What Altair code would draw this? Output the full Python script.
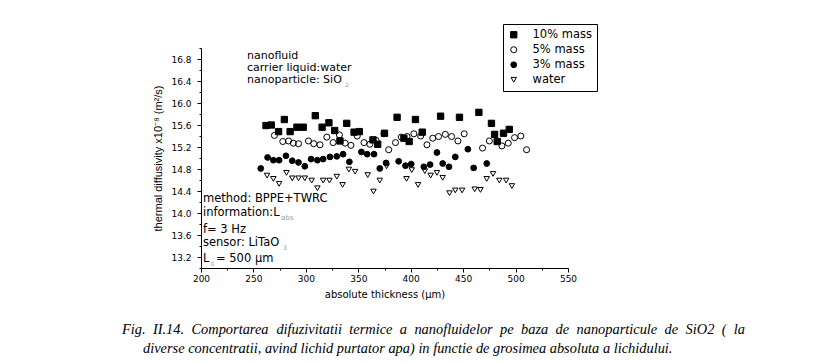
import altair as alt
import pandas as pd

# ---------------- data ----------------
series_names = ["10% mass", "5% mass", "3% mass", "water"]

x_10 = [262, 267, 274, 279.5, 285, 291.5, 297.5, 309, 315.5, 322, 327.5, 332.5, 339, 346, 351,
        364, 368.5, 375, 387, 393.5, 398.5, 404.5, 411, 428.5, 446.5, 465, 477, 480, 482.5,
        488.5, 494]
y_10 = [15.59, 15.60, 15.48, 15.70, 15.48, 15.56, 15.56, 15.77, 15.56, 15.64, 15.50, 15.31,
        15.63, 15.47, 15.48, 15.33, 15.25, 15.45, 15.74, 15.36, 15.30, 15.70, 15.47, 15.76,
        15.74, 15.83, 15.63, 15.43, 15.30, 15.45, 15.52]

x_5 = [270, 278, 283.5, 288, 293, 302.5, 307.5, 313.5, 320, 326, 332, 337.5, 343, 349, 355.5,
       361, 367, 374.5, 379, 385.5, 391, 396.5, 403, 409.5, 415.5, 421, 426.5, 433, 439, 445,
       451, 468.5, 475, 487, 493, 499, 505, 510.5]
y_5 = [15.41, 15.30, 15.31, 15.27, 15.26, 15.31, 15.26, 15.24, 15.38, 15.28, 15.42, 15.27,
       15.23, 15.40, 15.28, 15.25, 15.32, 15.44, 15.15, 15.28, 15.38, 15.39, 15.44, 15.40,
       15.24, 15.36, 15.39, 15.43, 15.39, 15.31, 15.44, 15.18, 15.31, 15.22, 15.27, 15.37,
       15.40, 15.15]

x_3 = [257, 263.5, 269, 274.5, 281, 287, 293, 299, 305, 311, 316.5, 323, 329.5, 335.5, 341.5,
       353, 358.5, 365, 370.5, 376.5, 388.5, 395, 400.5, 412.5, 418.5, 425, 430.5, 436.5,
       442.5, 454.5, 460, 472.5]
y_3 = [14.81, 15.01, 14.96, 14.96, 15.04, 14.95, 14.92, 14.85, 14.98, 14.96, 14.98, 15.02,
       15.03, 15.07, 14.93, 15.11, 15.07, 15.07, 14.81, 14.91, 14.94, 14.86, 14.89, 14.84,
       14.88, 15.10, 14.90, 14.84, 15.02, 15.16, 14.82, 14.90]

x_w = [263, 269, 274.5, 281.5, 287, 293, 299, 305.5, 311, 316.5, 322.5, 329.5, 335, 341, 347,
       359, 364.5, 370.5, 377, 396, 401, 407, 413.5, 419, 425, 430.5, 437, 442.5, 449, 461,
       466.5, 472.5, 478.5, 484.5, 491, 496.5]
y_w = [14.68, 14.62, 14.53, 14.73, 14.63, 14.63, 14.63, 14.59, 14.45, 14.59, 14.59, 14.66,
       14.51, 14.79, 14.75, 14.69, 14.39, 14.59, 14.85, 14.62, 14.78, 14.51, 14.76, 14.68,
       14.73, 14.64, 14.36, 14.41, 14.41, 14.43, 14.42, 14.62, 14.71, 14.59, 14.59, 14.49]

x_major_ticks = [200, 250, 300, 350, 400, 450, 500, 550]
x_minor_ticks = [225, 275, 325, 375, 425, 475, 525]
y_major_ticks = [13.2, 13.6, 14.0, 14.4, 14.8, 15.2, 15.6, 16.0, 16.4, 16.8]
y_minor_ticks = [13.0, 13.4, 13.8, 14.2, 14.6, 15.0, 15.4, 15.8, 16.2, 16.6, 17.0]

x_title = "absolute thickness (µm)"
y_title = "thermal diffusivity x10⁻⁸ (m²/s)"

notes_top = ["nanofluid", "carrier liquid:water", "nanoparticle: SiO"]
notes_bottom = ["method: BPPE+TWRC", "information:L", "f= 3 Hz", "sensor: LiTaO", "L"]
note_L_value = "= 500 µm"
caption_line1 = "Fig. II.14. Comportarea difuzivitatii termice a  nanofluidelor pe baza de nanoparticule de SiO2 ( la"
caption_line2 = "diverse concentratii, avind lichid purtator apa) in functie de grosimea absoluta a lichidului."

# ---------------- build table ----------------
frames = []
for name, xs, ys in zip(series_names, [x_10, x_5, x_3, x_w], [y_10, y_5, y_3, y_w]):
    frames.append(pd.DataFrame({"thickness": xs, "diff": ys, "series": name}))
df = pd.concat(frames, ignore_index=True)

SANS = "DejaVu Sans"


def major_test(vals):
    return "indexof([" + ",".join(repr(v) for v in vals) + "], datum.value) >= 0"


x_test = major_test(x_major_ticks)
y_test = major_test(y_major_ticks)

x_axis = alt.Axis(
    values=sorted(x_major_ticks + x_minor_ticks),
    labelExpr=f"{x_test} ? format(datum.value, 'd') : ''",
    tickSize={"condition": {"test": x_test, "value": 4}, "value": 2},
    grid=False, domainColor="black", tickColor="black", labelColor="black",
    labelFont=SANS, labelFontSize=9, labelPadding=2, labelOverlap=False, labelFlush=False,
    title=x_title, titleFont=SANS, titleFontSize=10, titleFontWeight="normal",
    titleColor="black", titlePadding=6,
)
y_axis = alt.Axis(
    values=sorted(y_major_ticks + y_minor_ticks),
    labelExpr=f"{y_test} ? format(datum.value, '.1f') : ''",
    tickSize={"condition": {"test": y_test, "value": 4}, "value": 2},
    grid=False, domainColor="black", tickColor="black", labelColor="black",
    labelFont=SANS, labelFontSize=9, labelPadding=6, labelOverlap=False, labelFlush=False,
    title=y_title, titleFont="Liberation Sans", titleFontSize=11, titleFontWeight="normal",
    titleColor="black", titlePadding=7,
)

legend = alt.Legend(
    title=None, orient="none", legendX=302, legendY=-24,
    strokeColor="black", fillColor="white", padding=5,
    labelFont=SANS, labelFontSize=11.5, labelColor="black", labelOffset=13,
    rowPadding=2, symbolStrokeColor="black", symbolStrokeWidth=1,
)

scale_dom = dict(domain=series_names)
points = alt.Chart(df).mark_point(opacity=1, strokeWidth=1).encode(
    x=alt.X("thickness:Q", scale=alt.Scale(domain=[200, 550], nice=False, zero=False), axis=x_axis),
    y=alt.Y("diff:Q", scale=alt.Scale(domain=[13.0, 17.0], nice=False, zero=False), axis=y_axis),
    shape=alt.Shape("series:N", sort=series_names,
                    scale=alt.Scale(range=["square", "circle", "circle", "triangle-down"], **scale_dom),
                    legend=legend),
    fill=alt.Fill("series:N", sort=series_names,
                  scale=alt.Scale(range=["black", "transparent", "black", "transparent"], **scale_dom),
                  legend=legend),
    stroke=alt.Stroke("series:N", sort=series_names,
                      scale=alt.Scale(range=["black", "black", "black", "black"], **scale_dom),
                      legend=legend),
    size=alt.Size("series:N", sort=series_names,
                  scale=alt.Scale(range=[40, 30, 38, 68], **scale_dom),
                  legend=legend),
)

one = alt.Data(values=[{}])


def note(text, x, y, size=11, color="black", font=SANS, style="normal", align="left"):
    return alt.Chart(one).mark_text(
        text=text, align=align, baseline="middle", font=font, fontSize=size,
        color=color, fontStyle=style,
    ).encode(x=alt.value(x), y=alt.value(y))


layers = [points]
# upper-left annotation block
for i, t in enumerate(notes_top):
    layers.append(note(t, 46, 8 + 12 * i, size=11))
layers.append(note("2", 144, 37, size=6, color="#999999"))
# lower-left annotation block
bottom_y = [151, 165, 182, 195, 211]
for t, yy in zip(notes_bottom, bottom_y):
    layers.append(note(t, 2, yy, size=11.5))
layers.append(note("abs", 80, 170, size=7, color="#999999"))
layers.append(note("3", 82, 200, size=6, color="#999999"))
layers.append(note("0", 9.5, 216, size=6, color="#999999"))
layers.append(note(note_L_value, 15, 211, size=11.5))

# ---------------- caption (first line justified like the figure) ----------------
# Times-Italic advance widths (per 1000 em), Liberation Serif is metric compatible
TI = {" ": 250, "(": 333, ")": 333, ",": 250, ".": 250, ":": 333,
      "F": 611, "I": 333, "C": 667, "S": 500, "O": 722}
TI.update({d: 500 for d in "0123456789"})
TI.update(dict(zip("abcdefghijklmnopqrstuvwxyz",
                   [500, 500, 444, 500, 444, 278, 500, 500, 278, 278, 444, 278, 722,
                    500, 500, 500, 500, 389, 389, 278, 500, 444, 667, 444, 444, 389])))
CAP_SIZE = 14.4


def text_width(s):
    return sum(TI.get(ch, 500) for ch in s) * CAP_SIZE / 1000.0


line1_words = caption_line1.split()
line1_left, line1_right = -79, 544
words_w = [text_width(w) for w in line1_words]
gap = (line1_right - line1_left - sum(words_w)) / (len(line1_words) - 1)
pos, acc = [], line1_left
for w in words_w:
    pos.append(acc)
    acc += w + gap
cap_df = pd.DataFrame({"word": line1_words, "px": pos})
layers.append(
    alt.Chart(cap_df).mark_text(align="left", baseline="middle", font="Liberation Serif",
                                fontSize=CAP_SIZE, fontStyle="italic", color="black").encode(
        x=alt.X("px:Q", scale=None), y=alt.value(282), text="word:N")
)
layers.append(note(caption_line2, -58, 301, size=CAP_SIZE, font="Liberation Serif", style="italic"))

chart = alt.layer(*layers).properties(
    width=367, height=220,
    padding={"left": 193, "top": 40, "right": 230, "bottom": 90},
    autosize=alt.AutoSizeParams(type="none"),
).configure_view(stroke="transparent")

chart.save("out.html", embed_options={"renderer": "svg", "actions": False})
